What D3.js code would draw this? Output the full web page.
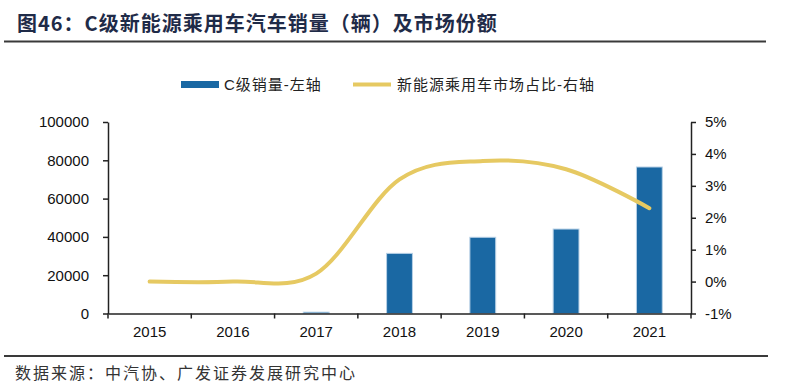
<!DOCTYPE html>
<html>
<head>
<meta charset="utf-8">
<script src="https://cdn.jsdelivr.net/npm/d3@7"></script>
<style>
  body { margin: 0; background: #fff; }
  text { font-family: "Liberation Sans", Arial, "Noto Sans CJK SC", sans-serif; }
</style>
</head>
<body>
<div id="chart"></div>
<script>
// data
const years = ["2015", "2016", "2017", "2018", "2019", "2020", "2021"];
const sales = [0, 0, 700, 31400, 39800, 44100, 76500];
const share = [0.0, 0.0, 0.25, 3.2, 3.78, 3.52, 2.3];
const leftTicks = [0, 20000, 40000, 60000, 80000, 100000];
const rightTicks = [-1, 0, 1, 2, 3, 4, 5];

const W = 800, H = 387;
const margin = { top: 122, right: 109, bottom: 73, left: 108 };

const svg = d3.select("#chart").append("svg")
    .attr("width", W)
    .attr("height", H);

// title + rules
svg.append("text")
    .attr("x", 17).attr("y", 31)
    .attr("fill", "#1f2b48")
    .style("font-size", "20px")
    .style("font-weight", "bold")
    .style("letter-spacing", "1px")
    .style("font-family", "'Noto Sans CJK SC', sans-serif")
    .text("图46：C级新能源乘用车汽车销量（辆）及市场份额");

svg.append("line")
    .attr("x1", 4).attr("x2", 766).attr("y1", 41.5).attr("y2", 41.5)
    .attr("stroke", "#3a3a3a").attr("stroke-width", 2);

svg.append("line")
    .attr("x1", 4).attr("x2", 768).attr("y1", 356).attr("y2", 356)
    .attr("stroke", "#3a3a3a").attr("stroke-width", 2);

svg.append("text")
    .attr("x", 15).attr("y", 379)
    .attr("fill", "#333")
    .style("font-size", "16px")
    .style("letter-spacing", "2px")
    .style("font-family", "'Noto Sans CJK SC', sans-serif")
    .text("数据来源：中汽协、广发证券发展研究中心");

// scales
const x = d3.scaleBand()
    .domain(years)
    .range([margin.left, W - margin.right]);

const xBar = d3.scaleBand()
    .domain(years)
    .range([margin.left, W - margin.right])
    .paddingInner(0.69)
    .paddingOuter(0.345);

const yL = d3.scaleLinear()
    .domain([0, 100000])
    .range([H - margin.bottom - 0.5, margin.top]);

const yR = d3.scaleLinear()
    .domain([-1, 5])
    .range([H - margin.bottom - 0.5, margin.top]);

// bars
svg.append("g")
    .selectAll("rect")
    .data(years)
    .join("rect")
    .attr("x", d => xBar(d))
    .attr("width", xBar.bandwidth())
    .attr("y", (d, i) => yL(sales[i]))
    .attr("height", (d, i) => yL(0) - yL(sales[i]))
    .attr("fill", "#1a68a3")
    .attr("stroke", "#b7d0e6")
    .attr("stroke-width", 1);

// line
const line = d3.line()
    .x((d, i) => x(years[i]) + x.bandwidth() / 2)
    .y(d => yR(d))
    .curve(d3.curveCardinal.tension(0));

svg.append("path")
    .datum(share)
    .attr("d", line)
    .attr("fill", "none")
    .attr("stroke", "#e6c962")
    .attr("stroke-width", 4)
    .attr("stroke-linecap", "round");

// axes
const styleAxis = g => {
    g.selectAll("path.domain").attr("stroke", "#222").attr("stroke-width", 1.5);
    g.selectAll(".tick line").attr("stroke", "#222").attr("stroke-width", 1.5);
    g.selectAll("text")
        .attr("fill", "#111")
        .style("font-size", "15px")
        .style("font-family", "'Liberation Sans', Arial, sans-serif");
};

svg.append("g")
    .attr("transform", `translate(${margin.left},0)`)
    .call(d3.axisLeft(yL).tickValues(leftTicks).tickFormat(d3.format("d"))
        .tickSizeInner(5).tickSizeOuter(0).tickPadding(14))
    .call(styleAxis);

svg.append("g")
    .attr("transform", `translate(${W - margin.right},0)`)
    .call(d3.axisRight(yR).tickValues(rightTicks).tickFormat(d => d + "%")
        .tickSizeInner(5).tickSizeOuter(0).tickPadding(9))
    .call(styleAxis);

const xAxis = svg.append("g")
    .attr("transform", `translate(0,${yL(0)})`)
    .call(d3.axisBottom(x).tickSize(0).tickPadding(13))
    .call(styleAxis);

// ticks at category boundaries
const bounds = years.map(d => x(d)).concat([x.range()[1]]);
xAxis.selectAll("line.bound")
    .data(bounds)
    .join("line")
    .attr("class", "bound")
    .attr("x1", d => d).attr("x2", d => d)
    .attr("y1", 0).attr("y2", 5)
    .attr("stroke", "#222").attr("stroke-width", 1.5);

// legend
const lg = svg.append("g");
lg.append("rect")
    .attr("x", 181).attr("y", 81).attr("width", 38).attr("height", 7)
    .attr("fill", "#1a68a3");
lg.append("text")
    .attr("x", 224).attr("y", 90)
    .attr("fill", "#222")
    .style("font-size", "15px")
    .style("letter-spacing", "1px")
    .text("C级销量-左轴");
lg.append("line")
    .attr("x1", 353).attr("x2", 391).attr("y1", 84.5).attr("y2", 84.5)
    .attr("stroke", "#e6c962").attr("stroke-width", 4);
lg.append("text")
    .attr("x", 397).attr("y", 90)
    .attr("fill", "#222")
    .style("font-size", "15px")
    .style("letter-spacing", "1px")
    .text("新能源乘用车市场占比-右轴");
</script>
</body>
</html>
